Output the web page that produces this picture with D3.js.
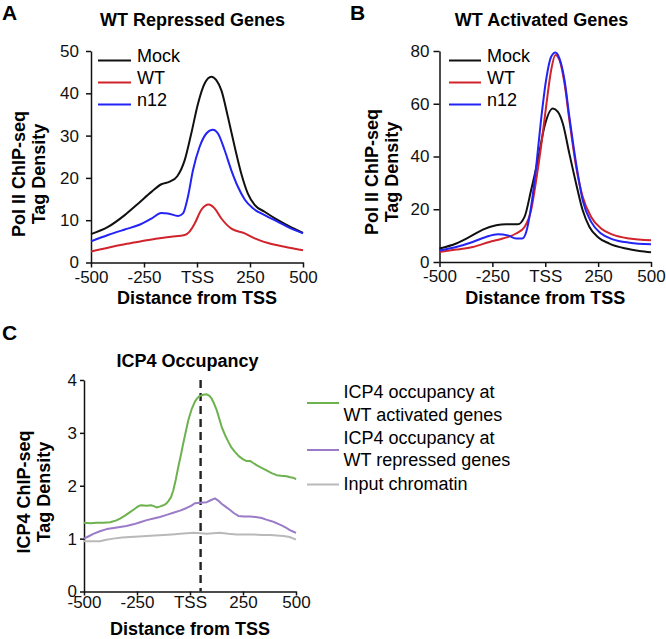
<!DOCTYPE html>
<html>
<head>
<meta charset="utf-8">
<script src="https://cdn.jsdelivr.net/npm/d3@7"></script>
<style>
  body { margin: 0; background: #fff; }
  svg { font-family: "Liberation Sans", Arial, Helvetica, sans-serif; }
  .domain, .tick line { stroke: #111; stroke-width: 1.5; }
</style>
</head>
<body>
<div class="chart"></div>
<script>
// shared x ticks (distance from TSS, bp)
var xTicks = [-500, -250, 0, 250, 500];
var xTickLabels = ["-500", "-250", "TSS", "250", "500"];

// panel A - WT repressed genes
var repMock = [[-500,6.7],[-420,8.4],[-341,11.2],[-278,13.9],[-215,16.7],[-168,18.5],[-129,19.1],[-93,20.4],[-58,24.2],[-27,30.5],[5,37.6],[36,42.3],[68,43.9],[91,43.1],[115,40.7],[146,34.4],[178,27.3],[209,21.0],[240,16.3],[272,13.6],[319,12.0],[382,10.0],[445,8.3],[500,7.0]];
var repWT = [[-500,2.6],[-420,3.5],[-341,4.3],[-263,5.0],[-185,5.7],[-122,6.1],[-58,6.5],[-35,7.3],[-11,9.2],[20,12.4],[55,13.7],[83,12.8],[115,10.4],[162,8.0],[225,6.9],[272,5.7],[335,4.6],[413,3.7],[500,2.9]];
var repN12 = [[-500,5.0],[-420,6.5],[-341,7.8],[-278,8.8],[-215,10.4],[-168,11.7],[-137,11.6],[-89,11.0],[-66,11.6],[-43,15.5],[-19,21.8],[12,27.3],[44,30.5],[75,31.4],[99,30.5],[130,26.6],[162,21.8],[193,17.9],[225,14.9],[264,12.8],[319,11.2],[382,9.6],[445,8.0],[500,6.9]];

// panel B - WT activated genes
var actMock = [[-500,5.1],[-421,7.0],[-358,9.5],[-295,12.3],[-232,13.9],[-185,14.3],[-130,14.3],[-98,17.1],[-67,27.2],[-35,38.6],[-4,51.3],[36,58.2],[59,57.0],[83,52.5],[114,41.1],[146,29.7],[177,19.6],[209,13.3],[248,9.5],[303,7.0],[382,5.1],[445,4.2],[500,3.7]];
var actWT = [[-500,3.8],[-421,4.7],[-343,5.7],[-264,7.6],[-201,8.9],[-138,10.8],[-98,13.3],[-67,19.6],[-43,31.0],[-20,43.7],[4,58.9],[28,72.8],[48,78.5],[67,76.6],[91,67.7],[114,53.8],[146,36.1],[177,24.7],[217,17.1],[264,12.7],[319,10.4],[398,8.9],[500,8.2]];
var actN12 = [[-500,4.4],[-421,5.7],[-343,7.6],[-280,9.5],[-224,10.5],[-177,10.1],[-138,8.9],[-109,8.9],[-90,11.4],[-67,20.9],[-43,36.1],[-20,53.8],[4,69.0],[28,77.8],[48,79.4],[67,77.2],[91,69.0],[114,55.1],[146,37.3],[177,23.4],[217,15.2],[264,10.8],[319,8.6],[398,7.3],[500,6.7]];

// panel C - ICP4 occupancy
var icpAct = [[-500,1.30],[-470,1.29],[-440,1.30],[-410,1.30],[-377,1.31],[-350,1.34],[-330,1.38],[-305,1.44],[-283,1.50],[-265,1.55],[-252,1.59],[-240,1.62],[-228,1.63],[-205,1.62],[-181,1.63],[-168,1.61],[-157,1.59],[-140,1.61],[-126,1.63],[-112,1.66],[-102,1.71],[-90,1.78],[-79,1.91],[-67,2.12],[-55,2.36],[-43,2.58],[-32,2.80],[-20,3.02],[-8,3.24],[8,3.45],[23,3.59],[35,3.66],[47,3.70],[62,3.72],[79,3.73],[92,3.70],[102,3.65],[114,3.55],[126,3.43],[138,3.27],[149,3.12],[165,2.96],[181,2.83],[196,2.72],[212,2.64],[230,2.56],[251,2.50],[265,2.47],[283,2.47],[298,2.43],[314,2.39],[338,2.34],[361,2.29],[385,2.24],[409,2.20],[430,2.19],[456,2.18],[472,2.16],[487,2.15],[494,2.14],[500,2.12]];
var icpRep = [[-500,1.00],[-480,1.04],[-456,1.09],[-425,1.14],[-393,1.18],[-360,1.20],[-330,1.22],[-300,1.24],[-267,1.27],[-235,1.31],[-204,1.35],[-172,1.38],[-142,1.41],[-110,1.45],[-79,1.49],[-47,1.53],[-16,1.58],[5,1.62],[23,1.67],[50,1.68],[79,1.69],[100,1.73],[118,1.76],[133,1.72],[149,1.66],[169,1.60],[189,1.54],[208,1.48],[228,1.43],[255,1.42],[283,1.42],[310,1.41],[338,1.39],[360,1.36],[385,1.33],[410,1.29],[432,1.25],[452,1.21],[471,1.16],[488,1.13],[500,1.11]];
var icpInput = [[-500,0.95],[-460,0.95],[-425,0.95],[-395,0.98],[-362,1.00],[-320,1.02],[-283,1.03],[-240,1.04],[-204,1.05],[-165,1.06],[-126,1.07],[-85,1.08],[-47,1.09],[-15,1.10],[16,1.11],[50,1.10],[79,1.09],[110,1.10],[141,1.11],[180,1.09],[220,1.08],[260,1.08],[299,1.08],[340,1.07],[377,1.07],[410,1.06],[440,1.05],[470,1.03],[500,0.98]];
var icpMark = 50;

var legendAB = ["Mock", "WT", "n12"];
var legendC = [["ICP4 occupancy at", "WT activated genes"], ["ICP4 occupancy at", "WT repressed genes"], ["Input chromatin"]];

var fontFam = '"Liberation Sans", Arial, Helvetica, sans-serif';

var svg = d3.select(".chart").append("svg")
  .attr("width", 666)
  .attr("height", 639);

function drawPanel(p) {
  var x = d3.scaleLinear().domain([-500, 500]).range([p.x0, p.x1]);
  var y = d3.scaleLinear().domain([0, p.yMax]).range([p.y0, p.y1]);

  var gx = svg.append("g")
    .attr("transform", `translate(0,${p.y0})`)
    .call(d3.axisBottom(x).tickValues(xTicks).tickFormat((d, i) => xTickLabels[i])
      .tickSize(p.xTick).tickSizeOuter(0).tickPadding(p.xPad));

  var gy = svg.append("g")
    .attr("transform", `translate(${p.x0},0)`)
    .call(d3.axisLeft(y).tickValues(p.yTicks).tickFormat(d3.format("d"))
      .tickSize(p.yTick).tickSizeOuter(0).tickPadding(p.yPad));

  [gx, gy].forEach(function(g) {
    g.attr("font-family", fontFam).attr("font-size", 17);
    g.selectAll(".tick text").attr("fill", "#111");
  });

  if (p.mark !== undefined) {
    svg.append("line")
      .attr("x1", x(p.mark)).attr("x2", x(p.mark))
      .attr("y1", p.y1).attr("y2", p.y0)
      .attr("stroke", "#222").attr("stroke-width", 2.4)
      .attr("stroke-dasharray", "8,5");
  }

  var line = d3.line().x(d => x(d[0])).y(d => y(d[1])).curve(p.curve);
  p.series.forEach(function(s) {
    svg.append("path").datum(s.data)
      .attr("fill", "none").attr("stroke", s.color).attr("stroke-width", 2)
      .attr("stroke-linejoin", "round")
      .attr("d", line);
  });

  svg.append("text").attr("x", p.letter[0]).attr("y", p.letter[1])
    .attr("font-size", 21).attr("font-weight", "bold").text(p.letterText);
  svg.append("text").attr("x", p.title[0]).attr("y", p.title[1])
    .attr("text-anchor", "middle").attr("font-size", 18).attr("font-weight", "bold").text(p.titleText);
  svg.append("text").attr("x", (p.x0 + p.x1) / 2).attr("y", p.xTitleY)
    .attr("text-anchor", "middle").attr("font-size", 18).attr("font-weight", "bold").text("Distance from TSS");
  p.yTitle.forEach(function(t, i) {
    svg.append("text")
      .attr("transform", `translate(${p.yTitleX[i]},${p.yTitleCy}) rotate(-90)`)
      .attr("text-anchor", "middle").attr("font-size", 18).attr("font-weight", "bold").text(t);
  });
}

var colAB = ["#111111", "#d0232b", "#2323f5"];

drawPanel({
  x0: 91, x1: 303, y0: 262.5, y1: 51, yMax: 50, yTicks: d3.range(0, 51, 10),
  xTick: 5, xPad: 3, yTick: 5, yPad: 7, curve: d3.curveMonotoneX,
  series: [{data: repMock, color: colAB[0]}, {data: repWT, color: colAB[1]}, {data: repN12, color: colAB[2]}],
  letter: [2, 20], letterText: "A", title: [192.5, 26], titleText: "WT Repressed Genes",
  xTitleY: 304, yTitle: ["Pol II ChIP-seq", "Tag Density"], yTitleX: [25, 45], yTitleCy: 174
});

drawPanel({
  x0: 439.5, x1: 651, y0: 262, y1: 51, yMax: 80, yTicks: d3.range(0, 81, 20),
  xTick: 5, xPad: 3, yTick: 6, yPad: 4, curve: d3.curveMonotoneX,
  series: [{data: actMock, color: colAB[0]}, {data: actWT, color: colAB[1]}, {data: actN12, color: colAB[2]}],
  letter: [350, 20], letterText: "B", title: [541.5, 26], titleText: "WT Activated Genes",
  xTitleY: 304, yTitle: ["Pol II ChIP-seq", "Tag Density"], yTitleX: [378, 398], yTitleCy: 172
});

drawPanel({
  x0: 84, x1: 296, y0: 591.5, y1: 380, yMax: 4, yTicks: d3.range(0, 5, 1),
  xTick: 4, xPad: 0, yTick: 4, yPad: 3, curve: d3.curveLinear, mark: icpMark,
  series: [{data: icpInput, color: "#b9b9b9"}, {data: icpRep, color: "#9a7bc7"}, {data: icpAct, color: "#6db24f"}],
  letter: [2, 340], letterText: "C", title: [187.5, 367], titleText: "ICP4 Occupancy",
  xTitleY: 635, yTitle: ["ICP4 ChIP-seq", "Tag Density"], yTitleX: [30, 50], yTitleCy: 492
});

// legends for A and B
[[98, 131, 137], [449, 481, 487]].forEach(function(pos) {
  legendAB.forEach(function(name, i) {
    var ly = 60.5 + i * 22;
    svg.append("line").attr("x1", pos[0]).attr("x2", pos[1]).attr("y1", ly).attr("y2", ly)
      .attr("stroke", colAB[i]).attr("stroke-width", 2);
    svg.append("text").attr("x", pos[2]).attr("y", ly + 1.5).attr("font-size", 18).text(name);
  });
});

// legend for C
var colC = ["#6db24f", "#9a7bc7", "#b9b9b9"];
var legCLineY = [403, 450, 484.5];
var legCTextY = [398, 443.5, 490];
legendC.forEach(function(lines, i) {
  svg.append("line").attr("x1", 307).attr("x2", 339).attr("y1", legCLineY[i]).attr("y2", legCLineY[i])
    .attr("stroke", colC[i]).attr("stroke-width", 2);
  lines.forEach(function(t, j) {
    svg.append("text").attr("x", 343.5).attr("y", legCTextY[i] + j * 22.5).attr("font-size", 18).text(t);
  });
});
</script>
</body>
</html>
